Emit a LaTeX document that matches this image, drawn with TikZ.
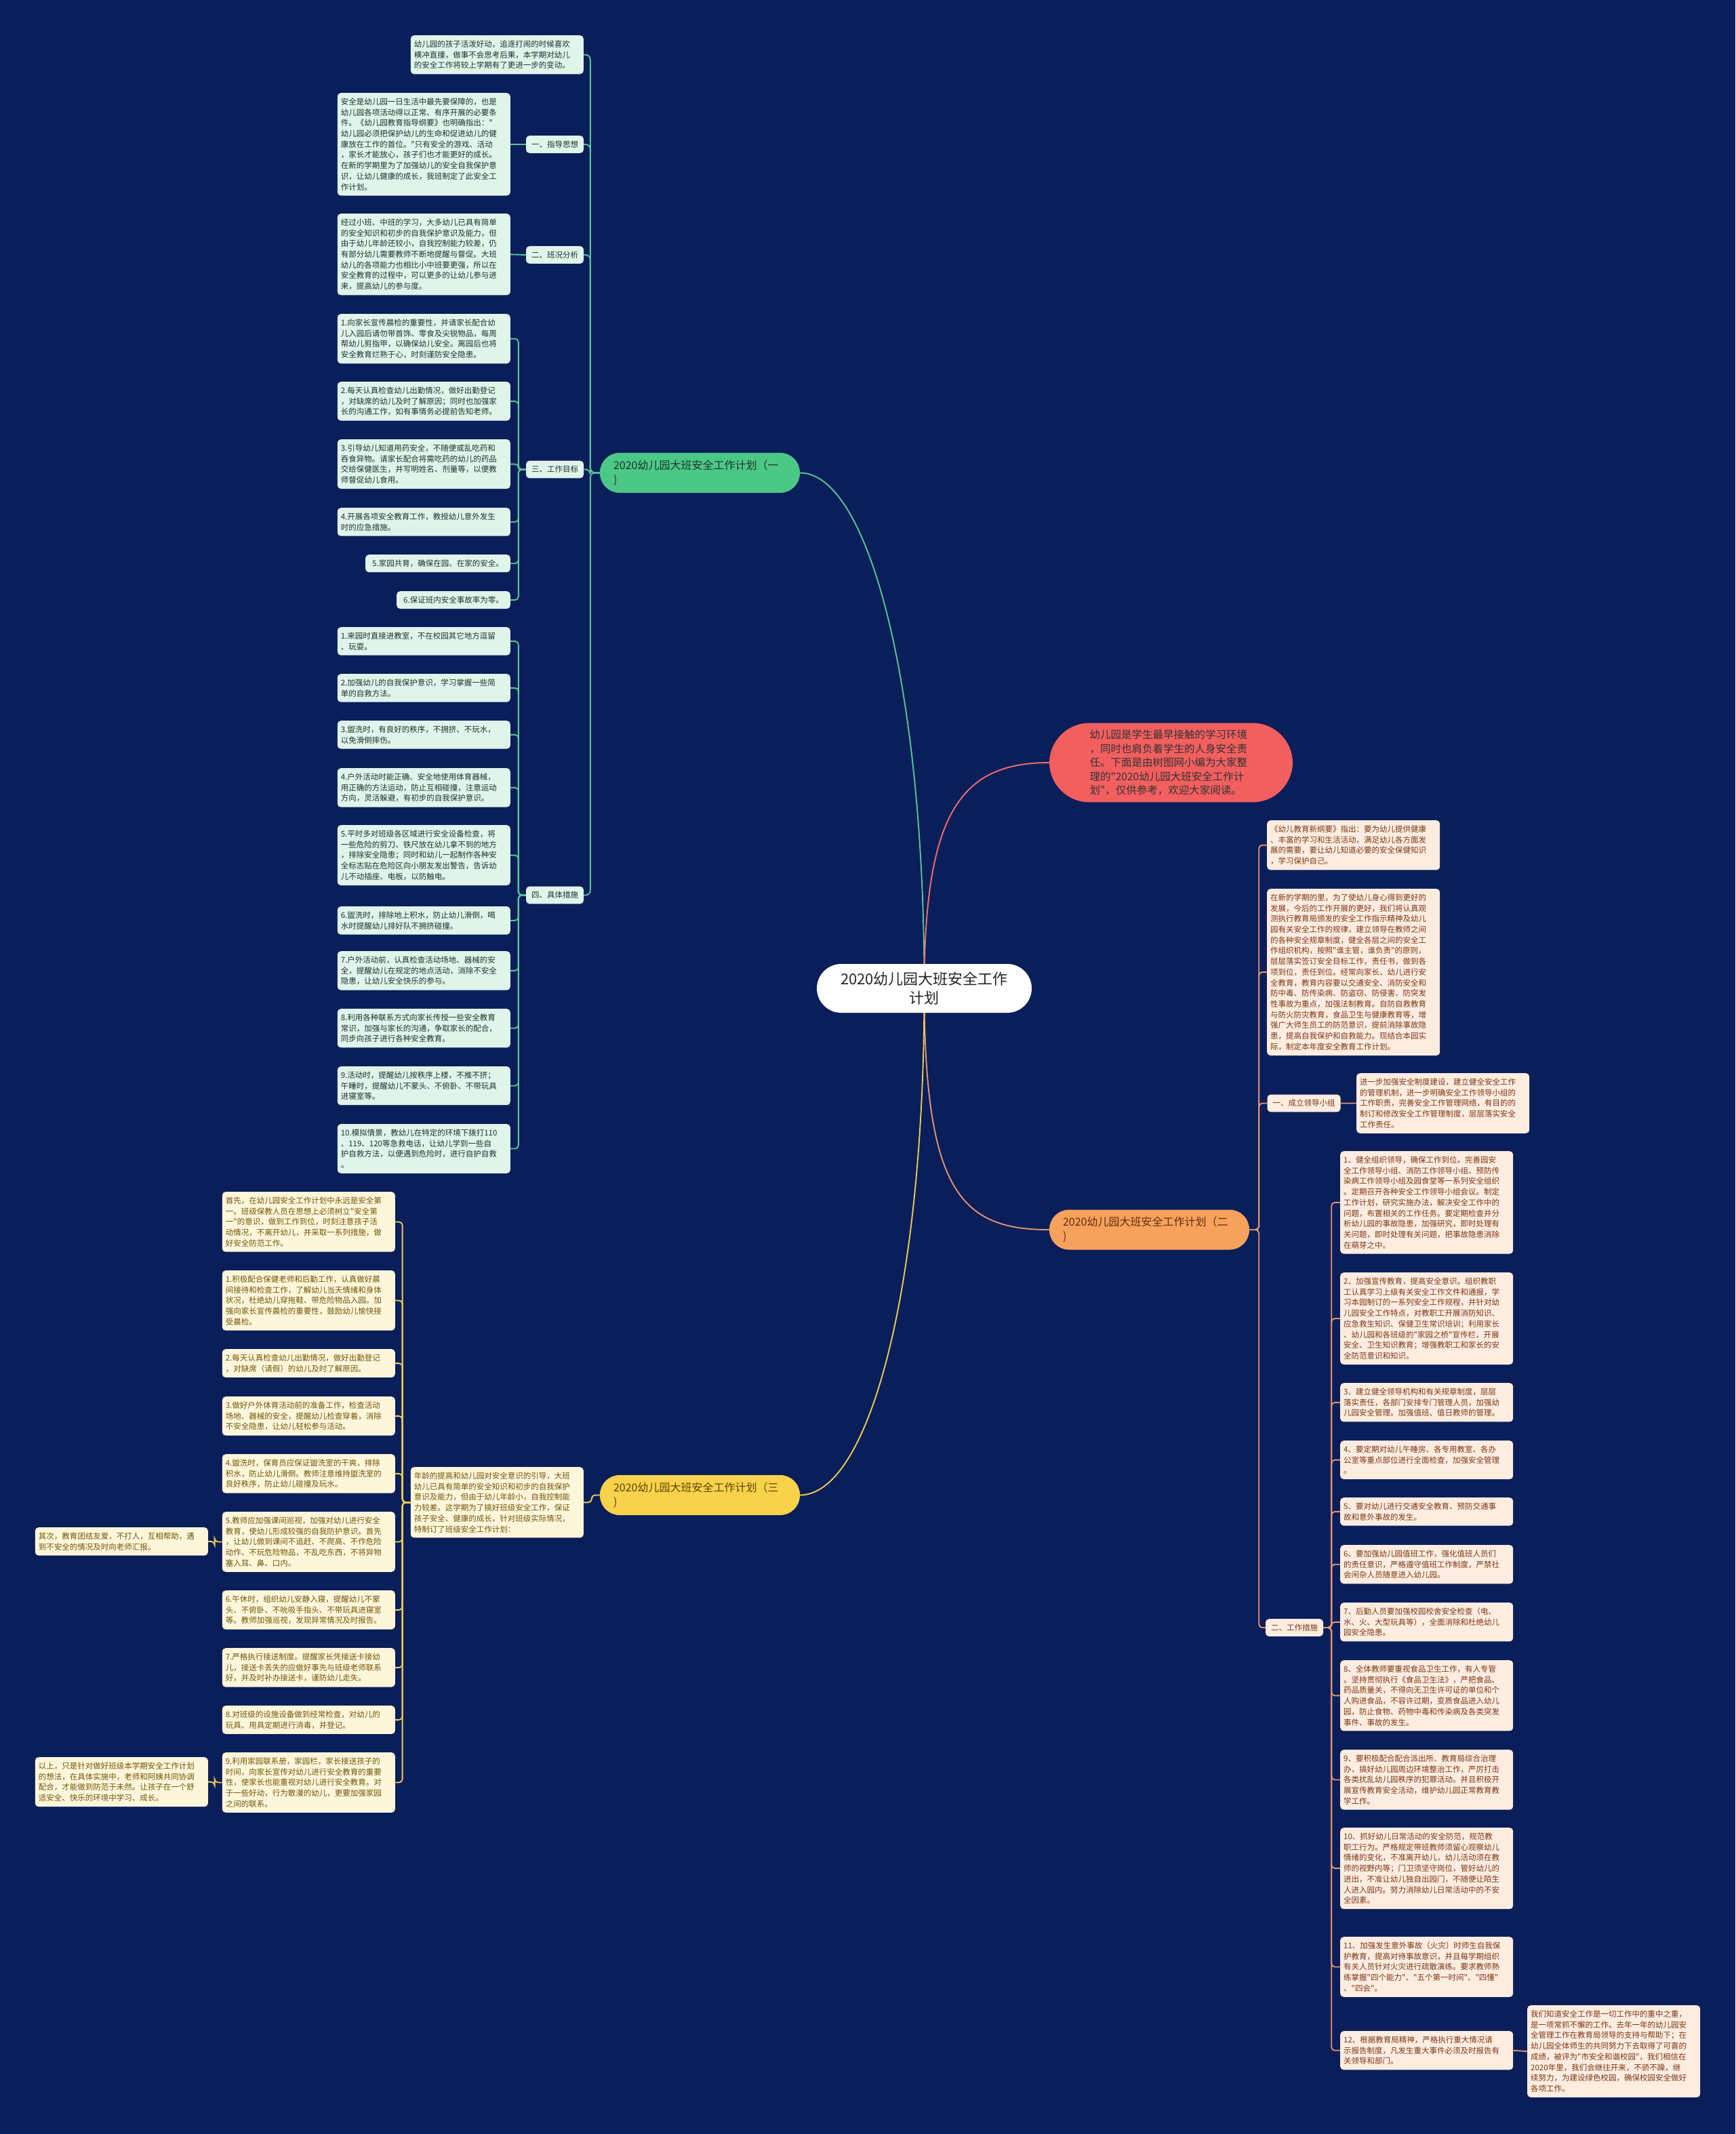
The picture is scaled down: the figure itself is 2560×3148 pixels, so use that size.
\documentclass[tikz,border=0pt]{standalone}
\usepackage{fontspec}
\setmainfont{Noto Sans CJK SC}[Ligatures=TeXOff]
\usepackage{tikz}
\usepackage{xcolor}
\usetikzlibrary{backgrounds}
\definecolor{bgnavy}{RGB}{10,30,90}
\definecolor{gfill}{RGB}{223,244,234}
\definecolor{gink}{RGB}{28,52,44}
\definecolor{gwire}{RGB}{88,196,150}
\definecolor{gbody}{RGB}{76,200,134}
\definecolor{ofill}{RGB}{253,236,224}
\definecolor{oink}{RGB}{122,56,22}
\definecolor{owire}{RGB}{226,150,112}
\definecolor{obody}{RGB}{246,162,92}
\definecolor{yfill}{RGB}{254,246,218}
\definecolor{yink}{RGB}{112,86,12}
\definecolor{ywire}{RGB}{238,204,80}
\definecolor{ybody}{RGB}{248,210,74}
\definecolor{rbody}{RGB}{243,95,95}
\definecolor{rwire}{RGB}{236,112,112}

\begin{document}
\begin{tikzpicture}[
  x=1pt, y=-1pt,
  base/.style={rounded corners=5pt, inner xsep=5pt, inner ysep=7.5pt, align=left, font=\fontsize{11.5}{15.7}\selectfont},
  leaf/.style={base, text width=245pt},
  gleaf/.style={leaf, fill=gfill, text=gink},
  oleaf/.style={leaf, fill=ofill, text=oink},
  yleaf/.style={leaf, fill=yfill, text=yink},
  gshort/.style={base, inner xsep=10pt, fill=gfill, text=gink},
  gtag/.style={base, inner xsep=8pt, fill=gfill, text=gink},
  otag/.style={base, inner xsep=8pt, fill=ofill, text=oink},
  branch/.style={rounded corners=29pt, minimum height=59pt, text width=255pt, inner xsep=20pt, align=left, font=\fontsize{16}{21}\selectfont},
  hub/.style={fill=white, rounded corners=36pt, minimum width=317pt, minimum height=72pt, align=center, text=black!85, font=\fontsize{22}{28}\selectfont},
  intro/.style={fill=rbody, rounded corners=59pt, text width=240pt, inner xsep=59.5pt, inner ysep=10pt, align=left, text=black!80, font=\fontsize{15.5}{20.5}\selectfont},
  gline/.style={draw=gwire, line width=1.9pt, rounded corners=5pt},
  oline/.style={draw=owire, line width=1.9pt, rounded corners=5pt},
  yline/.style={draw=ywire, line width=1.9pt, rounded corners=5pt},
  curve/.style={line width=1.9pt}
]
\useasboundingbox (0,0) rectangle (2560,3148);

\node[hub] (hub) at (1363.5,1458) {2020幼儿园大班安全工作\\计划};
\node[intro] (intro) at (1727.5,1125) {幼儿园是学生最早接触的学习环境\\，同时也肩负着学生的人身安全责\\任。下面是由树图网小编为大家整\\理的"2020幼儿园大班安全工作计\\划"，仅供参考，欢迎大家阅读。};
\node[branch, fill=gbody, text=gink] (gn) at (1032.5,697.5) {2020幼儿园大班安全工作计划（一\\)};
\node[branch, fill=obody, text=oink!80!black] (on) at (1695.5,1814) {2020幼儿园大班安全工作计划（二\\)};
\node[branch, fill=ybody, text=yink!80!black] (yn) at (1032.5,2205.5) {2020幼儿园大班安全工作计划（三\\)};

\node[gleaf, anchor=north east] (g0) at (861,52) {幼儿园的孩子活泼好动，追逐打闹的时候喜欢\\横冲直撞，做事不会思考后果，本学期对幼儿\\的安全工作将较上学期有了更进一步的变动。};
\node[gtag] (gz) at (818.5,213) {一、指导思想};
\node[gleaf, anchor=north east] (gz1) at (753,137) {安全是幼儿园一日生活中最先要保障的，也是\\幼儿园各项活动得以正常、有序开展的必要条\\件。《幼儿园教育指导纲要》也明确指出："\\幼儿园必须把保护幼儿的生命和促进幼儿的健\\康放在工作的首位。"只有安全的游戏、活动\\，家长才能放心，孩子们也才能更好的成长。\\在新的学期里为了加强幼儿的安全自我保护意\\识，让幼儿健康的成长，我班制定了此安全工\\作计划。};
\node[gtag] (gb) at (818.5,376) {二、班况分析};
\node[gleaf, anchor=north east] (gb1) at (753,315) {经过小班、中班的学习，大多幼儿已具有简单\\的安全知识和初步的自我保护意识及能力，但\\由于幼儿年龄还较小，自我控制能力较差，仍\\有部分幼儿需要教师不断地提醒与督促。大班\\幼儿的各项能力也相比小中班要更强，所以在\\安全教育的过程中，可以更多的让幼儿参与进\\来，提高幼儿的参与度。};
\node[gtag] (gm) at (818.5,692.5) {三、工作目标};
\node[gleaf, anchor=north east] (gm1) at (753,463) {1.向家长宣传晨检的重要性，并请家长配合幼\\儿入园后请勿带首饰、零食及尖锐物品，每周\\帮幼儿剪指甲，以确保幼儿安全。离园后也将\\安全教育烂熟于心，时刻谨防安全隐患。};
\node[gleaf, anchor=north east] (gm2) at (753,563) {2.每天认真检查幼儿出勤情况，做好出勤登记\\，对缺席的幼儿及时了解原因；同时也加强家\\长的沟通工作，如有事情务必提前告知老师。};
\node[gleaf, anchor=north east] (gm3) at (753,648) {3.引导幼儿知道用药安全，不随便或乱吃药和\\吞食异物。请家长配合将需吃药的幼儿的药品\\交给保健医生，并写明姓名、剂量等，以便教\\师督促幼儿食用。};
\node[gleaf, anchor=north east] (gm4) at (753,749) {4.开展各项安全教育工作，教授幼儿意外发生\\时的应急措施。};
\node[gshort, anchor=north east] (gm5) at (753,818) {5.家园共育，确保在园、在家的安全。};
\node[gshort, anchor=north east] (gm6) at (753,872) {6.保证班内安全事故率为零。};
\node[gtag] (gc) at (818.5,1320.5) {四、具体措施};
\node[gleaf, anchor=north east] (gc1) at (753,925) {1.来园时直接进教室，不在校园其它地方逗留\\、玩耍。};
\node[gleaf, anchor=north east] (gc2) at (753,994) {2.加强幼儿的自我保护意识，学习掌握一些简\\单的自救方法。};
\node[gleaf, anchor=north east] (gc3) at (753,1063) {3.盥洗时，有良好的秩序，不拥挤、不玩水，\\以免滑倒摔伤。};
\node[gleaf, anchor=north east] (gc4) at (753,1133) {4.户外活动时能正确、安全地使用体育器械，\\用正确的方法运动，防止互相碰撞，注意运动\\方向，灵活躲避，有初步的自我保护意识。};
\node[gleaf, anchor=north east] (gc5) at (753,1217) {5.平时多对班级各区域进行安全设备检查，将\\一些危险的剪刀、铁尺放在幼儿拿不到的地方\\，排除安全隐患；同时和幼儿一起制作各种安\\全标志贴在危险区向小朋友发出警告，告诉幼\\儿不动插座、电板，以防触电。};
\node[gleaf, anchor=north east] (gc6) at (753,1337) {6.盥洗时，排除地上积水，防止幼儿滑倒，喝\\水时提醒幼儿排好队不拥挤碰撞。};
\node[gleaf, anchor=north east] (gc7) at (753,1403) {7.户外活动前，认真检查活动场地、器械的安\\全，提醒幼儿在规定的地点活动，消除不安全\\隐患，让幼儿安全快乐的参与。};
\node[gleaf, anchor=north east] (gc8) at (753,1488) {8.利用各种联系方式向家长传授一些安全教育\\常识，加强与家长的沟通，争取家长的配合，\\同步向孩子进行各种安全教育。};
\node[gleaf, anchor=north east] (gc9) at (753,1573) {9.活动时，提醒幼儿按秩序上楼，不推不挤；\\午睡时，提醒幼儿不蒙头、不俯卧、不带玩具\\进寝室等。};
\node[gleaf, anchor=north east] (gc10) at (753,1658) {10.模拟情景，教幼儿在特定的环境下拨打110\\、119、120等急救电话，让幼儿学到一些自\\护自救方法，以便遇到危险时，进行自护自救\\。};

\node[oleaf, anchor=north west] (o0) at (1869,1210) {《幼儿教育新纲要》指出：要为幼儿提供健康\\、丰富的学习和生活活动，满足幼儿各方面发\\展的需要，要让幼儿知道必要的安全保健知识\\，学习保护自己。};
\node[oleaf, anchor=north west] (o1) at (1869,1311) {在新的学期的里，为了使幼儿身心得到更好的\\发展，今后的工作开展的更好，我们将认真观\\测执行教育局颁发的安全工作指示精神及幼儿\\园有关安全工作的规律，建立领导在教师之间\\的各种安全规章制度，健全各层之间的安全工\\作组织机构，按照"谁主管，谁负责"的原则，\\层层落实签订安全目标工作，责任书，做到各\\项到位，责任到位。经常向家长、幼儿进行安\\全教育，教育内容要以交通安全、消防安全和\\防中毒、防传染病、防盗窃、防侵害、防突发\\性事故为重点，加强法制教育。自防自救教育\\与防火防灾教育，食品卫生与健康教育等，增\\强广大师生员工的防范意识，提前消除事故隐\\患，提高自我保护和自救能力。现结合本园实\\际，制定本年度安全教育工作计划。};
\node[otag] (oa) at (1923.5,1627.5) {一、成立领导小组};
\node[oleaf, anchor=north west] (oa1) at (2001,1583) {进一步加强安全制度建设，建立健全安全工作\\的管理机制，进一步明确安全工作领导小组的\\工作职责，完善安全工作管理网络，有目的的\\制订和修改安全工作管理制度，层层落实安全\\工作责任。};
\node[otag] (ob) at (1909.5,2401) {二、工作措施};
\node[oleaf, anchor=north west] (ob1) at (1977,1698) {1、健全组织领导，确保工作到位。完善园安\\全工作领导小组、消防工作领导小组、预防传\\染病工作领导小组及园食堂等一系列安全组织\\。定期召开各种安全工作领导小组会议。制定\\工作计划，研究实施办法，解决安全工作中的\\问题，布置相关的工作任务。要定期检查并分\\析幼儿园的事故隐患，加强研究，即时处理有\\关问题，即时处理有关问题，把事故隐患消除\\在萌芽之中。};
\node[oleaf, anchor=north west] (ob2) at (1977,1877) {2、加强宣传教育，提高安全意识。组织教职\\工认真学习上级有关安全工作文件和通报，学\\习本园制订的一系列安全工作规程，并针对幼\\儿园安全工作特点，对教职工开展消防知识、\\应急救生知识、保健卫生常识培训；利用家长\\、幼儿园和各班级的"家园之桥"宣传栏，开展\\安全、卫生知识教育；增强教职工和家长的安\\全防范意识和知识。};
\node[oleaf, anchor=north west] (ob3) at (1977,2040) {3、建立健全领导机构和有关规章制度，层层\\落实责任，各部门安排专门管理人员，加强幼\\儿园安全管理。加强值班、值日教师的管理。};
\node[oleaf, anchor=north west] (ob4) at (1977,2125) {4、要定期对幼儿午睡房、各专用教室、各办\\公室等重点部位进行全面检查，加强安全管理\\。};
\node[oleaf, anchor=north west] (ob5) at (1977,2209) {5、要对幼儿进行交通安全教育、预防交通事\\故和意外事故的发生。};
\node[oleaf, anchor=north west] (ob6) at (1977,2279) {6、要加强幼儿园值班工作，强化值班人员们\\的责任意识，严格遵守值班工作制度，严禁社\\会闲杂人员随意进入幼儿园。};
\node[oleaf, anchor=north west] (ob7) at (1977,2364) {7、后勤人员要加强校园校舍安全检查（电、\\水、火、大型玩具等），全面消除和杜绝幼儿\\园安全隐患。};
\node[oleaf, anchor=north west] (ob8) at (1977,2449) {8、全体教师要重视食品卫生工作，有人专管\\。坚持贯彻执行《食品卫生法》，严把食品、\\药品质量关，不得向无卫生许可证的单位和个\\人购进食品，不容许过期，变质食品进入幼儿\\园，防止食物、药物中毒和传染病及各类突发\\事件、事故的发生。};
\node[oleaf, anchor=north west] (ob9) at (1977,2581) {9、要积极配合配合派出所、教育局综合治理\\办，搞好幼儿园周边环境整治工作，严厉打击\\各类扰乱幼儿园秩序的犯罪活动。并且积极开\\展宣传教育安全活动，维护幼儿园正常教育教\\学工作。};
\node[oleaf, anchor=north west] (ob10) at (1977,2696) {10、抓好幼儿日常活动的安全防范，规范教\\职工行为。严格规定带班教师须留心观察幼儿\\情绪的变化，不准离开幼儿，幼儿活动须在教\\师的视野内等；门卫须坚守岗位，管好幼儿的\\进出，不准让幼儿独自出园门，不随便让陌生\\人进入园内。努力消除幼儿日常活动中的不安\\全因素。};
\node[oleaf, anchor=north west] (ob11) at (1977,2857) {11、加强发生意外事故（火灾）时师生自我保\\护教育，提高对待事故意识，并且每学期组织\\有关人员针对火灾进行疏散演练。要求教师熟\\练掌握"四个能力"、"五个第一时间"、"四懂"\\、"四会"。};
\node[oleaf, anchor=north west] (ob12) at (1977,2996) {12、根据教育局精神，严格执行重大情况请\\示报告制度，凡发生重大事件必须及时报告有\\关领导和部门。};
\node[oleaf, anchor=north west] (ob13) at (2253,2958) {我们知道安全工作是一切工作中的重中之重，\\是一项常抓不懈的工作。去年一年的幼儿园安\\全管理工作在教育局领导的支持与帮助下；在\\幼儿园全体师生的共同努力下去取得了可喜的\\成绩，被评为"市安全和谐校园"，我们相信在\\2020年里，我们会继往开来，不骄不躁，继\\续努力，为建设绿色校园，确保校园安全做好\\各项工作。};

\node[yleaf, anchor=north east] (ym) at (861,2164) {年龄的提高和幼儿园对安全意识的引导，大班\\幼儿已具有简单的安全知识和初步的自我保护\\意识及能力，但由于幼儿年龄小，自我控制能\\力较差。这学期为了搞好班级安全工作，保证\\孩子安全、健康的成长，针对班级实际情况，\\特制订了班级安全工作计划：};
\node[yleaf, anchor=north east] (y0) at (583,1758) {首先，在幼儿园安全工作计划中永远是安全第\\一。班级保教人员在思想上必须树立"安全第\\一"的意识，做到工作到位，时刻注意孩子活\\动情况，不离开幼儿，并采取一系列措施，做\\好安全防范工作。};
\node[yleaf, anchor=north east] (y1) at (583,1874) {1.积极配合保健老师和后勤工作，认真做好晨\\间接待和检查工作，了解幼儿当天情绪和身体\\状况，杜绝幼儿穿拖鞋、带危险物品入园。加\\强向家长宣传晨检的重要性，鼓励幼儿愉快接\\受晨检。};
\node[yleaf, anchor=north east] (y2) at (583,1990) {2.每天认真检查幼儿出勤情况，做好出勤登记\\，对缺席（请假）的幼儿及时了解原因。};
\node[yleaf, anchor=north east] (y3) at (583,2060) {3.做好户外体育活动前的准备工作，检查活动\\场地、器械的安全，提醒幼儿检查穿着，消除\\不安全隐患，让幼儿轻松参与活动。};
\node[yleaf, anchor=north east] (y4) at (583,2145) {4.盥洗时，保育员应保证盥洗室的干爽，排除\\积水，防止幼儿滑倒。教师注意维持盥洗室的\\良好秩序，防止幼儿碰撞及玩水。};
\node[yleaf, anchor=north east] (y5) at (583,2230) {5.教师应加强课间巡视，加强对幼儿进行安全\\教育，使幼儿形成较强的自我防护意识。首先\\，让幼儿做到课间不追赶、不爬高、不作危险\\动作、不玩危险物品，不乱吃东西，不将异物\\塞入耳、鼻、口内。};
\node[yleaf, anchor=north east] (y6) at (583,2346) {6.午休时，组织幼儿安静入寝，提醒幼儿不蒙\\头、不俯卧、不吮吸手指头、不带玩具进寝室\\等。教师加强巡视，发现异常情况及时报告。};
\node[yleaf, anchor=north east] (y7) at (583,2431) {7.严格执行接送制度。提醒家长凭接送卡接幼\\儿，接送卡丢失的应做好事先与班级老师联系\\好，并及时补办接送卡，谨防幼儿走失。};
\node[yleaf, anchor=north east] (y8) at (583,2516) {8.对班级的设施设备做到经常检查，对幼儿的\\玩具、用具定期进行消毒，并登记。};
\node[yleaf, anchor=north east] (y9) at (583,2585) {9.利用家园联系册，家园栏，家长接送孩子的\\时间，向家长宣传对幼儿进行安全教育的重要\\性，使家长也能重视对幼儿进行安全教育。对\\于一些好动，行为散漫的幼儿，更要加强家园\\之间的联系。};
\node[yleaf, anchor=north east] (y5a) at (307,2253) {其次，教育团结友爱，不打人，互相帮助，遇\\到不安全的情况及时向老师汇报。};
\node[yleaf, anchor=north east] (y9a) at (307,2592) {以上，只是针对做好班级本学期安全工作计划\\的想法，在具体实施中，老师和阿姨共同协调\\配合，才能做到防范于未然。让孩子在一个舒\\适安全、快乐的环境中学习、成长。};

\begin{scope}[on background layer]
\fill[bgnavy] (0,0) rectangle (2560,3148);
\draw[curve, gwire] (hub.center) .. controls +(0,-450) and +(100,0) .. (gn.east);
\draw[curve, rwire] (hub.center) .. controls +(0,-260) and +(-130,0) .. (intro.west);
\draw[curve, owire] (hub.center) .. controls +(0,300) and +(-130,0) .. (on.west);
\draw[curve, ywire] (hub.center) .. controls +(0,450) and +(100,0) .. (yn.east);
\foreach \c in {g0,gz,gb,gm,gc}
  \draw[gline, rounded corners=7pt] (gn.west) -- ++(-14,0) |- (\c.east);
\draw[gline] (gz.west) -- (gz1.east);
\draw[gline] (gb.west) -- (gb1.east);
\foreach \k in {1,...,6}
  \draw[gline] (gm.west) -- ++(-11,0) |- (gm\k.east);
\foreach \k in {1,...,10}
  \draw[gline] (gc.west) -- ++(-11,0) |- (gc\k.east);
\foreach \c in {o0,o1,oa,ob}
  \draw[oline] (on.east) -- ++(14,0) |- (\c.west);
\draw[oline] (oa.east) -- (oa1.west);
\foreach \k in {1,...,12}
  \draw[oline] (ob.east) -- ++(12,0) |- (ob\k.west);
\draw[oline] (ob12.east) -- (ob13.west);
\draw[yline] (yn.west) -- ++(-12,0) |- (ym.east);
\foreach \k in {0,...,9}
  \draw[yline] (ym.west) -- ++(-12,0) |- (y\k.east);
\draw[yline] (y5.west) -- ++(-11,0) |- (y5a.east);
\draw[yline] (y9.west) -- ++(-11,0) |- (y9a.east);
\end{scope}
\end{tikzpicture}
\end{document}
